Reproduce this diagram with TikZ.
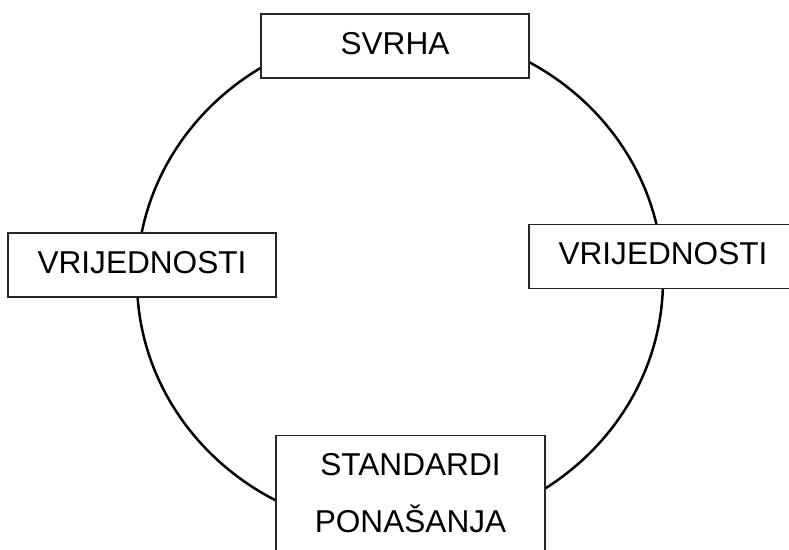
\documentclass[tikz,border=0pt]{standalone}
\usepackage{fontspec}
\setmainfont{Liberation Sans}
\begin{document}
\begin{tikzpicture}[x=0.5pt,y=0.5pt]
	          \useasboundingbox (0,0) rectangle (789,550);
	          \clip (0,0) rectangle (789,550);
	          \coordinate (c) at (400,270);
	          \draw[line width=1.25pt] (c) ellipse [x radius=263, y radius=250];
	          \begin{scope}[every node/.style={rectangle,draw=black!85,fill=white,line width=0.6pt,inner sep=0pt,
	              minimum width=134pt,minimum height=32pt,text height=11.3pt,text depth=3pt,
	              align=center,font=\fontsize{15.8}{28.5}\selectfont}]
	            \node (svrha) at (395,504) {SVRHA};
	            \node (vrij1) at (142,285) {VRIJEDNOSTI};
	            \node (vrij2) at (663,293.5) {VRIJEDNOSTI};
	            \node[anchor=north,minimum width=134.5pt,minimum height=0pt,inner ysep=9pt,
	              text height=,text depth=45pt] (stand) at (410.5,115) {STANDARDI\\PONAŠANJA};
	          \end{scope}
	        \end{tikzpicture}
\end{document}
